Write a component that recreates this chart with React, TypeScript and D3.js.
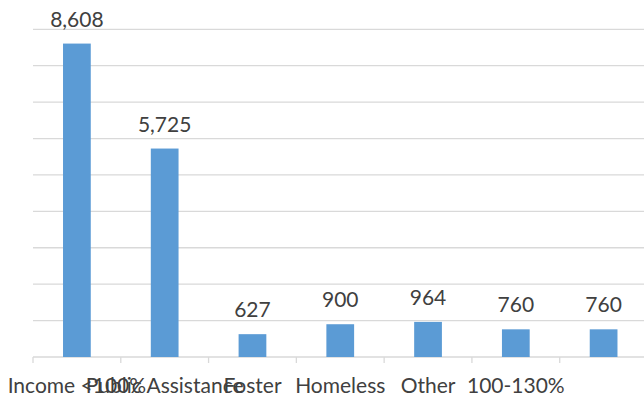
import React from "react";
import * as d3 from "d3";

const categories = ["Income <100%", "Public Assistance", "Foster", "Homeless", "Other", "100-130%", ""];
const values = [8608, 5725, 627, 900, 964, 760, 760];
const yTicks = [0, 1000, 2000, 3000, 4000, 5000, 6000, 7000, 8000, 9000];

export default function App() {
  const W = 644, H = 403;
  const left = 33, right = 647.5, top = 29.3, bottom = 357;
  const x = d3.scaleBand<number>().domain(d3.range(categories.length)).range([left, right]).paddingInner(0.684).paddingOuter(0.342);
  const xb = d3.scaleBand<number>().domain(d3.range(categories.length)).range([left, right]);
  const y = d3.scaleLinear().domain([0, 9000]).range([bottom, top]);
  const fmt = d3.format(",");
  const font = "Lato, 'Open Sans', sans-serif";
  return (
    <svg width={W} height={H} style={{ position: "absolute", left: 0, top: 0, background: "#fff" }}>
      {yTicks.filter((t) => t > 0).map((t) => (
        <line key={t} x1={left} x2={W} y1={y(t)} y2={y(t)} stroke="#d9d9d9" strokeWidth={1.3} />
      ))}
      <line x1={left} x2={W} y1={bottom} y2={bottom} stroke="#d9d9d9" strokeWidth={1.3} />
      {d3.range(categories.length + 1).map((i) => {
        const tx = left + i * xb.step();
        return <line key={i} x1={tx} x2={tx} y1={bottom} y2={bottom + 6} stroke="#d9d9d9" strokeWidth={1.3} />;
      })}
      {values.map((v, i) => (
        <rect key={i} x={x(i)!} y={y(v)} width={x.bandwidth()} height={bottom - y(v)} fill="#5b9bd5" />
      ))}
      {values.map((v, i) => (
        <text key={i} x={x(i)! + x.bandwidth() / 2} y={y(v) - 17} textAnchor="middle" fontFamily={font} fontSize={21} fill="#404040">
          {fmt(v)}
        </text>
      ))}
      {categories.map((c, i) => (
        <text key={i} x={xb(i)! + xb.bandwidth() / 2} y={393} textAnchor="middle" fontFamily={font} fontSize={21} fill="#404040">
          {c}
        </text>
      ))}
    </svg>
  );
}
